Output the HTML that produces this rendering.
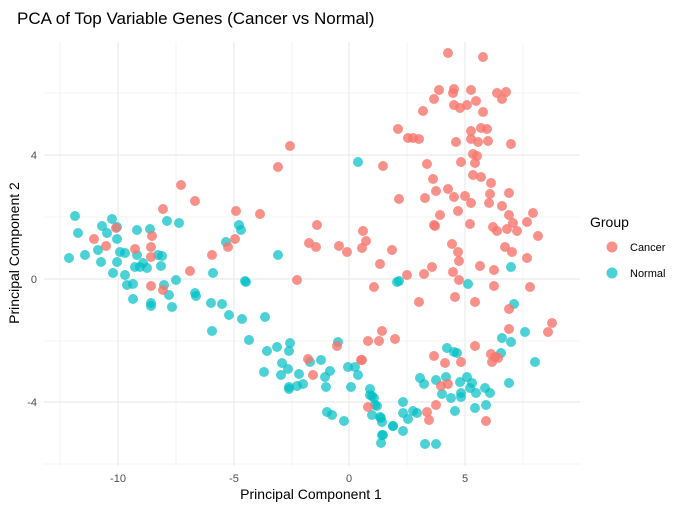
<!DOCTYPE html>
<html><head><meta charset="utf-8"><style>
body{margin:0;background:#fff;}
svg{display:block;font-family:"Liberation Sans",Arial,sans-serif;}
</style></head><body>
<svg width="689" height="510" viewBox="0 0 689 510" xmlns="http://www.w3.org/2000/svg">
<rect width="689" height="510" fill="#fff"/>
<g stroke="#EBEBEB" stroke-width="0.6">
<line x1="60" y1="42" x2="60" y2="466"/><line x1="176" y1="42" x2="176" y2="466"/><line x1="292" y1="42" x2="292" y2="466"/><line x1="407" y1="42" x2="407" y2="466"/><line x1="523" y1="42" x2="523" y2="466"/>
<line x1="44" y1="93" x2="580" y2="93"/><line x1="44" y1="217" x2="580" y2="217"/><line x1="44" y1="341" x2="580" y2="341"/><line x1="44" y1="464" x2="580" y2="464"/>
</g>
<g stroke="#EBEBEB" stroke-width="1.2">
<line x1="118" y1="42" x2="118" y2="466"/><line x1="234" y1="42" x2="234" y2="466"/><line x1="349" y1="42" x2="349" y2="466"/><line x1="465" y1="42" x2="465" y2="466"/>
<line x1="44" y1="155" x2="580" y2="155"/><line x1="44" y1="279" x2="580" y2="279"/><line x1="44" y1="402" x2="580" y2="402"/>
</g>
<g fill="#00BFC4" fill-opacity="0.7" id="n">
<circle cx="75" cy="216" r="5"/><circle cx="78" cy="233" r="5"/><circle cx="102" cy="226" r="5"/><circle cx="112" cy="219" r="5"/><circle cx="117" cy="227" r="5"/><circle cx="137" cy="230" r="5"/><circle cx="150" cy="229" r="5"/><circle cx="167" cy="221" r="5"/><circle cx="179" cy="223" r="5"/><circle cx="107" cy="233" r="5"/><circle cx="117" cy="239" r="5"/><circle cx="98" cy="250" r="5"/><circle cx="69" cy="258" r="5"/><circle cx="85" cy="255" r="5"/><circle cx="101" cy="262" r="5"/><circle cx="120" cy="252" r="5"/><circle cx="125" cy="253" r="5"/><circle cx="137" cy="255" r="5"/><circle cx="117" cy="262" r="5"/><circle cx="135" cy="267" r="5"/><circle cx="140" cy="267" r="5"/><circle cx="147" cy="268" r="5"/><circle cx="143" cy="263" r="5"/><circle cx="158" cy="255" r="5"/><circle cx="162" cy="256" r="5"/><circle cx="161" cy="266" r="5"/><circle cx="113" cy="273" r="5"/><circle cx="125" cy="275" r="5"/><circle cx="127" cy="285" r="5"/><circle cx="133" cy="284" r="5"/><circle cx="133" cy="299" r="5"/><circle cx="151" cy="303" r="5"/><circle cx="151" cy="306" r="5"/><circle cx="164" cy="285" r="5"/><circle cx="169" cy="295" r="5"/><circle cx="172" cy="307" r="5"/><circle cx="176" cy="280" r="5"/><circle cx="195" cy="293" r="5"/><circle cx="196" cy="296" r="5"/><circle cx="213" cy="273" r="5"/><circle cx="211" cy="303" r="5"/><circle cx="222" cy="304" r="5"/><circle cx="229" cy="315" r="5"/><circle cx="242" cy="319" r="5"/><circle cx="265" cy="317" r="5"/><circle cx="245" cy="281" r="5"/><circle cx="239" cy="225" r="5"/><circle cx="241" cy="230" r="5"/><circle cx="226" cy="242" r="5"/><circle cx="278" cy="255" r="5"/>
<circle cx="246" cy="282" r="5"/><circle cx="212" cy="331" r="5"/><circle cx="249" cy="340" r="5"/><circle cx="267" cy="351" r="5"/><circle cx="277" cy="347" r="5"/><circle cx="290" cy="343" r="5"/><circle cx="289" cy="351" r="5"/><circle cx="282" cy="363" r="5"/><circle cx="288" cy="369" r="5"/><circle cx="264" cy="372" r="5"/><circle cx="281" cy="375" r="5"/><circle cx="299" cy="374" r="5"/><circle cx="289" cy="387" r="5"/><circle cx="289" cy="389" r="5"/><circle cx="297" cy="386" r="5"/><circle cx="303" cy="384" r="5"/><circle cx="310" cy="362" r="5"/><circle cx="321" cy="360" r="5"/><circle cx="330" cy="371" r="5"/><circle cx="325" cy="377" r="5"/><circle cx="326" cy="387" r="5"/><circle cx="338" cy="342" r="5"/><circle cx="348" cy="367" r="5"/><circle cx="355" cy="367" r="5"/><circle cx="358" cy="375" r="5"/><circle cx="351" cy="387" r="5"/><circle cx="327" cy="412" r="5"/><circle cx="332" cy="415" r="5"/><circle cx="344" cy="421" r="5"/><circle cx="397" cy="282" r="5"/><circle cx="358" cy="162" r="5"/>
<circle cx="399" cy="281" r="5"/><circle cx="468" cy="284" r="5"/><circle cx="511" cy="267" r="5"/><circle cx="514" cy="304" r="5"/><circle cx="502" cy="338" r="5"/><circle cx="511" cy="342" r="5"/><circle cx="525" cy="332" r="5"/><circle cx="535" cy="362" r="5"/><circle cx="509" cy="383" r="5"/><circle cx="501" cy="353" r="5"/><circle cx="447" cy="348" r="5"/><circle cx="454" cy="352" r="5"/><circle cx="457" cy="353" r="5"/><circle cx="420" cy="378" r="5"/><circle cx="424" cy="384" r="5"/><circle cx="436" cy="380" r="5"/><circle cx="446" cy="377" r="5"/><circle cx="442" cy="394" r="5"/><circle cx="451" cy="398" r="5"/><circle cx="460" cy="382" r="5"/><circle cx="467" cy="377" r="5"/><circle cx="472" cy="383" r="5"/><circle cx="470" cy="388" r="5"/><circle cx="461" cy="393" r="5"/><circle cx="461" cy="397" r="5"/><circle cx="476" cy="393" r="5"/><circle cx="485" cy="388" r="5"/><circle cx="490" cy="393" r="5"/><circle cx="486" cy="405" r="5"/><circle cx="475" cy="408" r="5"/><circle cx="455" cy="411" r="5"/><circle cx="403" cy="402" r="5"/><circle cx="403" cy="413" r="5"/><circle cx="408" cy="419" r="5"/><circle cx="413" cy="411" r="5"/><circle cx="417" cy="413" r="5"/><circle cx="393" cy="426" r="5"/><circle cx="403" cy="431" r="5"/><circle cx="425" cy="444" r="5"/><circle cx="436" cy="444" r="5"/><circle cx="382" cy="435" r="5"/><circle cx="381" cy="443" r="5"/><circle cx="370" cy="389" r="5"/><circle cx="372" cy="396" r="5"/><circle cx="375" cy="405" r="5"/><circle cx="372" cy="415" r="5"/><circle cx="381" cy="418" r="5"/><circle cx="382" cy="422" r="5"/><circle cx="370" cy="395" r="5"/><circle cx="374" cy="398" r="5"/><circle cx="377" cy="406" r="5"/><circle cx="380" cy="417" r="5"/><circle cx="393" cy="426" r="5"/><circle cx="383" cy="435" r="5"/>
</g>
<g fill="#F8766D" fill-opacity="0.8">
<circle cx="290" cy="146" r="5"/><circle cx="278" cy="167" r="5"/><circle cx="181" cy="185" r="5"/><circle cx="195" cy="201" r="5"/><circle cx="163" cy="209" r="5"/><circle cx="236" cy="211" r="5"/><circle cx="260" cy="214" r="5"/><circle cx="317" cy="225" r="5"/><circle cx="116" cy="228" r="5"/><circle cx="94" cy="239" r="5"/><circle cx="106" cy="246" r="5"/><circle cx="135" cy="249" r="5"/><circle cx="152" cy="236" r="5"/><circle cx="151" cy="247" r="5"/><circle cx="151" cy="257" r="5"/><circle cx="235" cy="239" r="5"/><circle cx="228" cy="247" r="5"/><circle cx="212" cy="255" r="5"/><circle cx="309" cy="243" r="5"/><circle cx="316" cy="247" r="5"/><circle cx="190" cy="271" r="5"/><circle cx="297" cy="280" r="5"/><circle cx="151" cy="286" r="5"/><circle cx="163" cy="290" r="5"/><circle cx="347" cy="252" r="5"/><circle cx="339" cy="246" r="5"/>
<circle cx="374" cy="287" r="5"/><circle cx="337" cy="346" r="5"/><circle cx="308" cy="359" r="5"/><circle cx="313" cy="375" r="5"/><circle cx="361" cy="360" r="5"/><circle cx="368" cy="341" r="5"/><circle cx="379" cy="341" r="5"/><circle cx="382" cy="331" r="5"/><circle cx="395" cy="339" r="5"/><circle cx="368" cy="407" r="5"/>
<circle cx="448" cy="53" r="5"/><circle cx="483" cy="57" r="5"/><circle cx="439" cy="90" r="5"/><circle cx="454" cy="89" r="5"/><circle cx="453" cy="93" r="5"/><circle cx="471" cy="90" r="5"/><circle cx="497" cy="93" r="5"/><circle cx="506" cy="92" r="5"/><circle cx="502" cy="99" r="5"/><circle cx="434" cy="99" r="5"/><circle cx="423" cy="111" r="5"/><circle cx="454" cy="105" r="5"/><circle cx="460" cy="108" r="5"/><circle cx="467" cy="105" r="5"/><circle cx="476" cy="101" r="5"/><circle cx="483" cy="112" r="5"/><circle cx="398" cy="129" r="5"/><circle cx="408" cy="138" r="5"/><circle cx="413" cy="138" r="5"/><circle cx="419" cy="139" r="5"/><circle cx="456" cy="142" r="5"/><circle cx="471" cy="131" r="5"/><circle cx="471" cy="139" r="5"/><circle cx="481" cy="128" r="5"/><circle cx="487" cy="129" r="5"/><circle cx="478" cy="142" r="5"/><circle cx="488" cy="141" r="5"/><circle cx="511" cy="144" r="5"/><circle cx="473" cy="154" r="5"/><circle cx="477" cy="156" r="5"/><circle cx="475" cy="163" r="5"/><circle cx="461" cy="162" r="5"/><circle cx="427" cy="164" r="5"/><circle cx="383" cy="166" r="5"/><circle cx="433" cy="179" r="5"/><circle cx="436" cy="191" r="5"/><circle cx="448" cy="189" r="5"/><circle cx="454" cy="197" r="5"/><circle cx="465" cy="196" r="5"/><circle cx="471" cy="203" r="5"/><circle cx="473" cy="175" r="5"/><circle cx="481" cy="177" r="5"/><circle cx="491" cy="183" r="5"/><circle cx="490" cy="194" r="5"/><circle cx="489" cy="203" r="5"/><circle cx="509" cy="193" r="5"/><circle cx="502" cy="206" r="5"/><circle cx="399" cy="199" r="5"/><circle cx="425" cy="198" r="5"/><circle cx="440" cy="215" r="5"/><circle cx="458" cy="211" r="5"/><circle cx="509" cy="215" r="5"/><circle cx="533" cy="213" r="5"/><circle cx="513" cy="223" r="5"/><circle cx="527" cy="222" r="5"/><circle cx="435" cy="226" r="5"/><circle cx="470" cy="224" r="5"/><circle cx="493" cy="227" r="5"/><circle cx="497" cy="231" r="5"/><circle cx="507" cy="229" r="5"/><circle cx="517" cy="231" r="5"/><circle cx="538" cy="236" r="5"/><circle cx="363" cy="231" r="5"/>
<circle cx="434" cy="225" r="5"/><circle cx="366" cy="241" r="5"/><circle cx="362" cy="248" r="5"/><circle cx="392" cy="250" r="5"/><circle cx="380" cy="264" r="5"/><circle cx="407" cy="275" r="5"/><circle cx="424" cy="274" r="5"/><circle cx="432" cy="267" r="5"/><circle cx="452" cy="244" r="5"/><circle cx="458" cy="252" r="5"/><circle cx="459" cy="261" r="5"/><circle cx="453" cy="272" r="5"/><circle cx="459" cy="280" r="5"/><circle cx="480" cy="266" r="5"/><circle cx="494" cy="270" r="5"/><circle cx="505" cy="247" r="5"/><circle cx="512" cy="252" r="5"/><circle cx="527" cy="258" r="5"/><circle cx="419" cy="302" r="5"/><circle cx="455" cy="297" r="5"/><circle cx="475" cy="302" r="5"/><circle cx="494" cy="286" r="5"/><circle cx="530" cy="287" r="5"/><circle cx="509" cy="309" r="5"/><circle cx="509" cy="329" r="5"/><circle cx="552" cy="323" r="5"/><circle cx="548" cy="332" r="5"/><circle cx="362" cy="360" r="5"/><circle cx="475" cy="346" r="5"/><circle cx="491" cy="354" r="5"/><circle cx="495" cy="357" r="5"/><circle cx="492" cy="362" r="5"/><circle cx="498" cy="358" r="5"/><circle cx="434" cy="356" r="5"/><circle cx="445" cy="363" r="5"/><circle cx="461" cy="362" r="5"/><circle cx="441" cy="386" r="5"/><circle cx="448" cy="384" r="5"/><circle cx="436" cy="405" r="5"/><circle cx="427" cy="412" r="5"/><circle cx="429" cy="420" r="5"/><circle cx="486" cy="421" r="5"/>
</g>
<text x="17" y="24" font-size="17" fill="#000">PCA of Top Variable Genes (Cancer vs Normal)</text>
<g font-size="11" fill="#4D4D4D" text-anchor="middle">
<text x="118" y="482">-10</text><text x="234" y="482">-5</text><text x="349" y="482">0</text><text x="465" y="482">5</text>
</g>
<g font-size="11" fill="#4D4D4D" text-anchor="end">
<text x="37" y="159">4</text><text x="37" y="283">0</text><text x="37" y="406">-4</text>
</g>
<text x="311" y="499" font-size="14" text-anchor="middle" fill="#000">Principal Component 1</text>
<text transform="translate(19,253) rotate(-90)" font-size="14" text-anchor="middle" fill="#000">Principal Component 2</text>
<text x="590" y="227" font-size="14" fill="#000">Group</text>
<circle cx="612" cy="247" r="5.5" fill="#F8766D" fill-opacity="0.8"/>
<text x="630" y="251" font-size="11" fill="#000">Cancer</text>
<circle cx="612" cy="273" r="5.5" fill="#00BFC4" fill-opacity="0.7"/>
<text x="630" y="277" font-size="11" fill="#000">Normal</text>
</svg>
</body></html>
